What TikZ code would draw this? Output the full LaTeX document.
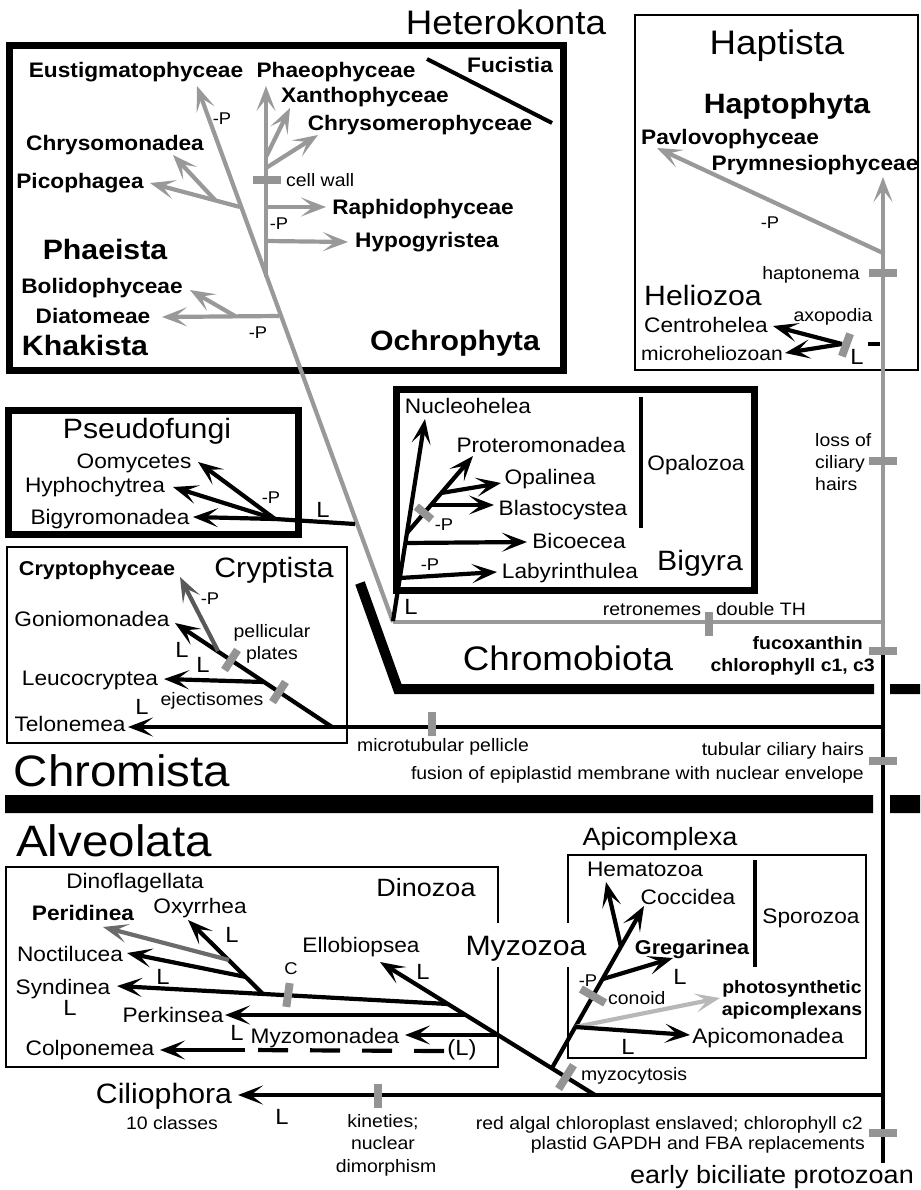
\documentclass[tikz,border=0pt]{standalone}
\usepackage{fontspec}
\setmainfont{Liberation Sans}[FakeStretch=1.08]
\usetikzlibrary{arrows.meta}
\definecolor{treegray}{gray}{0.6}
\definecolor{bargray}{gray}{0.58}
\definecolor{darkbranch}{gray}{0.35}
\definecolor{midbranch}{gray}{0.42}
\definecolor{lightbranch}{gray}{0.72}

\begin{document}
\begin{tikzpicture}[x=1pt,y=-1pt,>={Stealth[length=25pt,width=19pt,inset=12pt]},
  lbl/.style={inner sep=0pt,text depth=0pt,text height=15pt,font=\fontsize{21}{25}\selectfont},
  lblb/.style={lbl,font=\fontsize{21}{25}\selectfont\bfseries},
  note/.style={inner sep=0pt,text depth=0pt,text height=13pt,font=\fontsize{18}{21}\selectfont},
  noteb/.style={note,font=\fontsize{18}{21}\selectfont\bfseries},
  minus/.style={inner sep=0pt,text depth=0pt,text height=12.2pt,font=\fontsize{17}{20}\selectfont},
  lost/.style={inner sep=0pt,text depth=0pt,text height=15.8pt,font=\fontsize{22}{26}\selectfont},
  grp/.style={inner sep=0pt,text depth=0pt,text height=20pt,font=\fontsize{28}{32}\selectfont},
  grpb/.style={grp,font=\fontsize{28}{32}\selectfont\bfseries},
  sub/.style={inner sep=0pt,text depth=0pt,text height=18pt,font=\fontsize{25}{30}\selectfont},
  taxon/.style={inner sep=0pt,text depth=0pt,text height=24.5pt,font=\fontsize{34}{40}\selectfont},
  realm/.style={inner sep=0pt,text depth=0pt,text height=31.7pt,font=\fontsize{44}{52}\selectfont},
  br/.style={line width=4.2pt,->},
  gbr/.style={br,treegray},
  stem/.style={line width=4.2pt},
  trait/.style={fill=bargray,inner sep=0pt,minimum width=28pt,minimum height=8pt},
  vtrait/.style={trait,minimum width=8pt,minimum height=24pt},
  heavy/.style={line width=7pt},
  light/.style={line width=1.4pt}]
\useasboundingbox (0,0) rectangle (920,1190);
\draw[heavy] (9,46) rectangle (563,370);
\draw[light] (635,15) rectangle (918,370);
\draw[heavy] (8,410) rectangle (298,534);
\draw[heavy] (396,389) rectangle (754,590);
\draw[light] (7,547) rectangle (347,743);
\draw[light] (6,867) rectangle (498,1067);
\draw[light] (568,855) rectangle (866,1058);
\node[grp,fill=white,inner xsep=2pt,inner ysep=12pt] (myzozoa) at (526,945) {Myzozoa};
\draw[line width=10pt] (360,583) -- (398,689) -- (874,689) (890,689) -- (920,689);
\fill (5,795) rectangle (873,813) (890,795) rectangle (920,813);
\draw[line width=4pt] (427,59) -- (552,123);
\draw[stem] (641,397) -- (641,528);
\draw[stem] (755,860) -- (755,967);

% main trunk
\coordinate (root) at (883,1163); \coordinate (fuco) at (883,651);
\coordinate (prym-t) at (883,177); \coordinate (rt) at (883,622);
\draw[stem] (root) -- (fuco);
\draw[gbr] (fuco) -- (prym-t);
\coordinate (pav-j) at (883,253); \coordinate (pav-t) at (657,148);
\draw[gbr] (pav-j) -- (pav-t);

% Heterokonta
\coordinate (hk) at (393,622); \coordinate (eust-t) at (197,86);
\draw[stem,treegray] (hk) -- (rt);
\draw[gbr] (hk) -- (eust-t);
\coordinate (phae-j) at (266,277); \coordinate (phae-t) at (266,86);
\coordinate (xan-j) at (266,157); \coordinate (xan-t) at (290,108);
\coordinate (chm-j) at (266,168); \coordinate (chm-t) at (318,135);
\coordinate (raph-j) at (266,207); \coordinate (raph-t) at (326,207);
\coordinate (hypo-j) at (266,241); \coordinate (hypo-t) at (348,242);
\coordinate (pico-j) at (240,207); \coordinate (pico-t) at (150,183);
\coordinate (chmo-j) at (215,200); \coordinate (chmo-t) at (173,155);
\coordinate (diat-j) at (279,316); \coordinate (diat-t) at (162,317);
\coordinate (boli-j) at (235,316); \coordinate (boli-t) at (190,290);
\draw[gbr] (phae-j) -- (phae-t);
\draw[gbr] (xan-j) -- (xan-t);
\draw[gbr] (chm-j) -- (chm-t);
\draw[gbr] (raph-j) -- (raph-t);
\draw[gbr] (hypo-j) -- (hypo-t);
\draw[gbr] (pico-j) -- (pico-t);
\draw[gbr] (chmo-j) -- (chmo-t);
\draw[gbr] (diat-j) -- (diat-t);
\draw[gbr] (boli-j) -- (boli-t);

% Heliozoa
\coordinate (hel-j) at (842,344); \coordinate (cent-t) at (773,326); \coordinate (mhel-t) at (785,353);
\draw[br] (hel-j) -- (cent-t);
\draw[br] (hel-j) -- (mhel-t);
\draw[line width=3.5pt] (868,344) -- (880,344);

% Pseudofungi
\coordinate (pf-j) at (355,524); \coordinate (pf) at (275,519);
\coordinate (oomy-t) at (198,462); \coordinate (hyph-t) at (173,487); \coordinate (bigy-t) at (193,517);
\draw[stem] (pf-j) -- (pf);
\draw[br] (pf) -- (oomy-t);
\draw[br] (pf) -- (hyph-t);
\draw[br] (pf) -- (bigy-t);

% Bigyra
\coordinate (bg) at (393,621); \coordinate (nuc-t) at (425,419);
\coordinate (lab-j) at (400,578); \coordinate (lab-t) at (497,572);
\coordinate (bic-j) at (405,543); \coordinate (bic-t) at (527,542);
\coordinate (op-j) at (407,533); \coordinate (prot-t) at (473,456);
\coordinate (bla-j) at (431,505); \coordinate (bla-t) at (494,505);
\coordinate (opa-j) at (441,493); \coordinate (opa-t) at (501,483);
\draw[br] (bg) -- (nuc-t);
\draw[br] (lab-j) -- (lab-t);
\draw[br] (bic-j) -- (bic-t);
\draw[br] (op-j) -- (prot-t);
\draw[br] (bla-j) -- (bla-t);
\draw[br] (opa-j) -- (opa-t);

% Cryptista
\coordinate (tel-j) at (883,727); \coordinate (tel-t) at (128,727);
\coordinate (cr) at (332,727); \coordinate (gon-t) at (175,623);
\coordinate (cryp-j) at (218,651); \coordinate (cryp-t) at (180,577);
\coordinate (leu-j) at (264,682); \coordinate (leu-t) at (164,679);
\draw[br] (tel-j) -- (tel-t);
\draw[br] (cr) -- (gon-t);
\draw[br,darkbranch] (cryp-j) -- (cryp-t);
\draw[br] (leu-j) -- (leu-t);

% Alveolata
\coordinate (cil-j) at (883,1095); \coordinate (cil-t) at (238,1095);
\coordinate (alv) at (595,1095); \coordinate (ello-t) at (380,962);
\draw[br] (cil-j) -- (cil-t);
\draw[br] (alv) -- (ello-t);
\coordinate (dino-j) at (448,1004); \coordinate (synd-t) at (117,986);
\coordinate (oxy-j) at (263,994); \coordinate (oxy-t) at (188,920);
\coordinate (noct-j) at (246,977); \coordinate (noct-t) at (127,953);
\coordinate (peri-j) at (229,960); \coordinate (peri-t) at (103,927);
\coordinate (perk-j) at (465,1015); \coordinate (perk-t) at (225,1015);
\coordinate (myzm-j) at (498,1035); \coordinate (myzm-t) at (405,1035);
\coordinate (colp-d) at (444,1051); \coordinate (colp-s) at (245,1050); \coordinate (colp-t) at (160,1050);
\draw[br] (dino-j) -- (synd-t);
\draw[br] (oxy-j) -- (oxy-t);
\draw[br] (noct-j) -- (noct-t);
\draw[br,midbranch] (peri-j) -- (peri-t);
\draw[br] (perk-j) -- (perk-t);
\draw[br] (myzm-j) -- (myzm-t);
\draw[stem,dash pattern=on 30pt off 22pt] (colp-d) -- (colp-s);
\draw[br] (colp-s) -- (colp-t);
\coordinate (api) at (552,1068); \coordinate (cocc-t) at (644,906);
\coordinate (hem-j) at (621,947); \coordinate (hem-t) at (606,882);
\coordinate (greg-j) at (603,979); \coordinate (greg-t) at (673,958);
\coordinate (apim-j) at (575,1027); \coordinate (apim-t) at (690,1035);
\coordinate (phot-t) at (720,998);
\draw[br] (api) -- (cocc-t);
\draw[br] (hem-j) -- (hem-t);
\draw[br] (greg-j) -- (greg-t);
\draw[br,lightbranch] (apim-j) -- (phot-t);
\draw[br] (apim-j) -- (apim-t);

% characters
\node[trait] (cellwall) at (267,180) {};
\node[trait] (hapto) at (883,273) {};
\node[trait] (cililoss) at (883,461) {};
\node[trait] (fucobar) at (883,651) {};
\node[trait] (tubhair) at (883,761) {};
\node[trait] (redalga) at (883,1133) {};
\node[vtrait] (retro) at (709,624) {};
\node[vtrait] (pellicle) at (432,724) {};
\node[vtrait] (kinety) at (378,1096) {};
\node[vtrait,rotate=-8] (cbar) at (288,995) {};
\node[vtrait,rotate=-33] (plates) at (231,660) {};
\node[vtrait,rotate=-33] (ejecti) at (279,692) {};
\node[trait,minimum width=20pt,rotate=-40] (opalbar) at (424,513) {};
\node[trait,rotate=-30] (conoidbar) at (593,996) {};
\node[trait,rotate=58] (myzobar) at (566,1077) {};
\node[vtrait,rotate=-20] (axobar) at (846,345) {};

% Heterokonta labels
\node[taxon] (heterokonta) at (506,22) {Heterokonta};
\node[lblb] (fucistia) at (510,65) {Fucistia};
\node[lblb] (eust) at (136,70) {Eustigmatophyceae};
\node[lblb] (phae) at (336,70) {Phaeophyceae};
\node[lblb] (xan) at (365,95) {Xanthophyceae};
\node[lblb] (chm) at (420,123) {Chrysomerophyceae};
\node[lblb] (chmo) at (115,143) {Chrysomonadea};
\node[lblb] (pico) at (80,181) {Picophagea};
\node[note,anchor=west] (cellwall-l) at (286,180) {cell wall};
\node[lblb] (raph) at (423,207) {Raphidophyceae};
\node[lblb] (hypo) at (427,240) {Hypogyristea};
\node[grpb] (phaeista) at (105,249) {Phaeista};
\node[lblb] (boli) at (102,286) {Bolidophyceae};
\node[lblb] (diat) at (93,316) {Diatomeae};
\node[grpb] (khakista) at (85,345) {Khakista};
\node[grpb] (ochrophyta) at (455,340) {Ochrophyta};
\node[minus] at (222,118) {-P}; \node[minus] at (279,223) {-P}; \node[minus] at (258,332) {-P};

% Haptista labels
\node[taxon] (haptista) at (777,42) {Haptista};
\node[grpb] (haptophyta) at (787,104) {Haptophyta};
\node[lblb] (pav) at (730,137) {Pavlovophyceae};
\node[lblb] (prym) at (815,163) {Prymnesiophyceae};
\node[minus] at (770,222) {-P};
\node[note] (hapto-l) at (811,273) {haptonema};
\node[grp] (heliozoa) at (703,295) {Heliozoa};
\node[note] (axo-l) at (833,315) {axopodia};
\node[lbl] (cent) at (706,325) {Centrohelea};
\node[lbl,font=\fontsize{19.5}{23}\selectfont] (mhel) at (712,353) {microheliozoan};
\node[lost] at (857,357) {L};

% Pseudofungi labels
\node[grp] (pseudofungi) at (147,428) {Pseudofungi};
\node[lbl] (oomy) at (134,461) {Oomycetes};
\node[lbl] (hyph) at (95,485) {Hyphochytrea};
\node[lbl] (bigy) at (110,517) {Bigyromonadea};
\node[minus] at (271,497) {-P};
\node[lost] at (323,510) {L};

% Bigyra labels
\node[lbl] (nuc) at (468,406) {Nucleohelea};
\node[lbl] (prot) at (541,445) {Proteromonadea};
\node[lbl] (opa) at (550,477) {Opalinea};
\node[lbl] (bla) at (563,508) {Blastocystea};
\node[lbl] (bic) at (579,541) {Bicoecea};
\node[lbl] (lab) at (570,571) {Labyrinthulea};
\node[lbl] (opalozoa) at (696,463) {Opalozoa};
\node[grp] (bigyra) at (700,560) {Bigyra};
\node[minus] at (444,524) {-P}; \node[minus] at (430,564) {-P};
\node[lost] at (411,607) {L};

% Cryptista labels
\node[grp] (cryptista) at (274,567) {Cryptista};
\node[lblb,font=\fontsize{20}{24}\selectfont\bfseries] (cryp) at (97,568) {Cryptophyceae};
\node[minus] at (210,598) {-P};
\node[lbl] (gon) at (92,619) {Goniomonadea};
\node[lost] at (182,650) {L}; \node[lost] at (203,665) {L}; \node[lost] at (142,707) {L};
\node[note] (plates-l1) at (272,631) {pellicular};
\node[note] (plates-l2) at (272,653) {plates};
\node[lbl] (leu) at (90,678) {Leucocryptea};
\node[note] (ejecti-l) at (212,699) {ejectisomes};
\node[lbl] (tel) at (70,724) {Telonemea};

% middle notes
\node[note] (retro-l) at (652,609) {retronemes};
\node[note] (doubleth) at (761,609) {double TH};
\node[taxon] (chromobiota) at (568,658) {Chromobiota};
\node[noteb,anchor=east] (fuco-l1) at (863,643) {fucoxanthin};
\node[noteb,anchor=east] (fuco-l2) at (875,665) {chlorophyll c1, c3};
\node[note,anchor=west] (loss-l1) at (815,440) {loss of};
\node[note,anchor=west] (loss-l2) at (815,462) {ciliary};
\node[note,anchor=west] (loss-l3) at (815,484) {hairs};
\node[note] (pellicle-l) at (443,745) {microtubular pellicle};
\node[note,anchor=east] (tub-l1) at (864,749) {tubular ciliary hairs};
\node[note,anchor=east] (tub-l2) at (864,773) {fusion of epiplastid membrane with nuclear envelope};
\node[realm] (chromista) at (122,771) {Chromista};

% Alveolata labels
\node[realm] (alveolata) at (114,841) {Alveolata};
\node[sub] (dinozoa) at (426,887) {Dinozoa};
\node[lbl] (dinofl) at (135,881) {Dinoflagellata};
\node[lblb] (peri) at (83,913) {Peridinea};
\node[lbl] (oxy) at (200,906) {Oxyrrhea};
\node[lbl] (noct) at (70,954) {Noctilucea};
\node[lbl] (synd) at (63,987) {Syndinea};
\node[lbl] (ello) at (361,945) {Ellobiopsea};
\node[lbl] (perk) at (173,1015) {Perkinsea};
\node[lbl] (myzm) at (325,1036) {Myzomonadea};
\node[lbl] (colp) at (90,1048) {Colponemea};
\node[lost] at (232,935) {L}; \node[lost] at (163,977) {L}; \node[lost] at (70,1008) {L};
\node[lost] at (423,972) {L}; \node[lost] at (237,1033) {L};
\node[lost] at (462,1048) {(L)};
\node[minus] at (291,968) {C};

\node[sub] (apicomplexa) at (660,836) {Apicomplexa};
\node[lbl] (hem) at (645,869) {Hematozoa};
\node[lbl] (cocc) at (688,897) {Coccidea};
\node[lblb,font=\fontsize{20}{24}\selectfont\bfseries] (greg) at (692,947) {Gregarinea};
\node[lbl] (sporozoa) at (811,916) {Sporozoa};
\node[lost] at (680,977) {L};
\node[noteb] (phot-l1) at (792,987) {photosynthetic};
\node[noteb] (phot-l2) at (792,1009) {apicomplexans};
\node[minus] at (588,980) {-P};
\node[note,anchor=west] (conoid-l) at (608,998) {conoid};
\node[lbl] (apim) at (768,1036) {Apicomonadea};
\node[lost] at (628,1047) {L};
\node[note,anchor=west] (myzo-l) at (581,1074) {myzocytosis};

\node[grp] (ciliophora) at (164,1093) {Ciliophora};
\node[note] (classes) at (172,1123) {10 classes};
\node[lost] at (282,1117) {L};
\node[note] (kin-l1) at (383,1121) {kineties;};
\node[note] (kin-l2) at (383,1143) {nuclear};
\node[note] (kin-l3) at (386,1166) {dimorphism};
\node[note,anchor=east] (red-l1) at (863,1123) {red algal chloroplast enslaved; chlorophyll c2};
\node[note,anchor=east] (red-l2) at (865,1143) {plastid GAPDH and FBA replacements};
\node[sub] (ebp) at (772,1174) {early biciliate protozoan};
\end{tikzpicture}
\end{document}
